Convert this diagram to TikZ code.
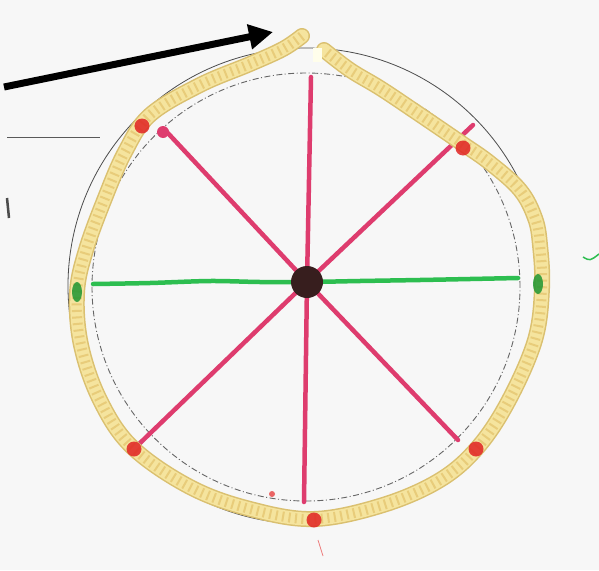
\documentclass[tikz,border=0pt]{standalone}
\usepackage{tikz}
\usetikzlibrary{arrows.meta}
\definecolor{fondPapier}{RGB}{247,247,247}
\definecolor{roseFeutre}{RGB}{222,60,110}
\definecolor{vertFeutre}{RGB}{45,190,80}
\definecolor{cordeJaune}{RGB}{245,228,158}
\definecolor{cordeBord}{RGB}{218,192,112}
\definecolor{cordeTorsade}{RGB}{232,204,122}
\definecolor{rougeMarque}{RGB}{225,35,35}
\definecolor{vertMarque}{RGB}{30,150,50}
\definecolor{centreBrun}{RGB}{55,30,30}

\begin{document}
\begin{tikzpicture}[x=1pt,y=-1pt,
  rayon/.style={roseFeutre,line width=4.5pt,line cap=round},
  corde/.style={draw=cordeBord,line width=16pt,line cap=round,line join=round,
     postaction={draw=cordeJaune,line width=13pt},
     postaction={draw=cordeTorsade,line width=10pt,line cap=butt,dash pattern=on 2pt off 4.5pt}},
  marque/.style={opacity=0.85},
  pastille/.style={circle,fill=centreBrun,minimum size=32pt,inner sep=0pt}]
  \useasboundingbox[fill=fondPapier] (0,0) rectangle (599,570);

  % Cercles traces au crayon
  \draw[black!70,line width=0.8pt] (306,286) circle[radius=238pt];
  \draw[black!60,line width=0.9pt,dash pattern=on 6pt off 2.5pt on 1pt off 2.5pt]
    (306,287) circle[radius=214pt];

  % Diametre vert
  \draw[vertFeutre,line width=4.5pt,line cap=round] plot[smooth] coordinates
    {(93,284) (150,283) (210,281) (260,282) (307,282) (360,281) (420,280) (470,279) (518,278)};

  % Rayons roses
  \coordinate (centre) at (307,282);
  \foreach \bx/\by in {311/77, 304/502, 165/130, 473/125, 138/445, 458/440}
    \draw[rayon] (centre) -- (\bx,\by);
  \node[pastille] (point) at (centre) {};

  % Corde
  \draw[corde] plot[smooth,tension=0.6] coordinates
    {(302,36) (283,49) (250,64) (200,85) (150,115) (125,152) (105,198) (86,250)
     (77,293) (81,345) (100,400) (132,447) (190,487) (250,509) (314,519)
     (383,505) (440,480) (478,447) (509,400) (535,340) (542,288) (540,245)
     (535,218) (520,190) (490,163) (460,142) (413,110) (380,88) (350,70) (324,50)};
  \fill[yellow!8!white] (313,48) rectangle (322,62);

  % Marques sur la corde
  \foreach \mx/\my in {142/126, 134/449, 314/520, 476/449, 463/148}
    \fill[rougeMarque,marque] (\mx,\my) circle[radius=7.5pt];
  \foreach \mx/\my in {77/292, 538/284}
    \fill[vertMarque,marque] (\mx,\my) ellipse[x radius=5pt,y radius=10pt];
  \fill[roseFeutre] (163,132) circle[radius=6pt];
  \fill[rougeMarque!70] (272,494) circle[radius=3pt];
  \draw[rougeMarque!60,line width=0.8pt] (318,540) -- (323,556);

  % Fleche
  \coordinate (depart) at (4,87);
  \coordinate (pointe) at (273,32);
  \draw[line width=7pt,-{Triangle[length=24pt,width=24pt]}] (depart) -- (pointe);

  % Traits en marge
  \draw[black!65,line width=0.8pt] (7,137) -- (100,137);
  \draw[black!70,line width=2.5pt] (7,198) -- (9,218);
  \draw[vertFeutre,line width=1.5pt] (583,257) .. controls (590,261) .. (599,254);
\end{tikzpicture}
\end{document}
